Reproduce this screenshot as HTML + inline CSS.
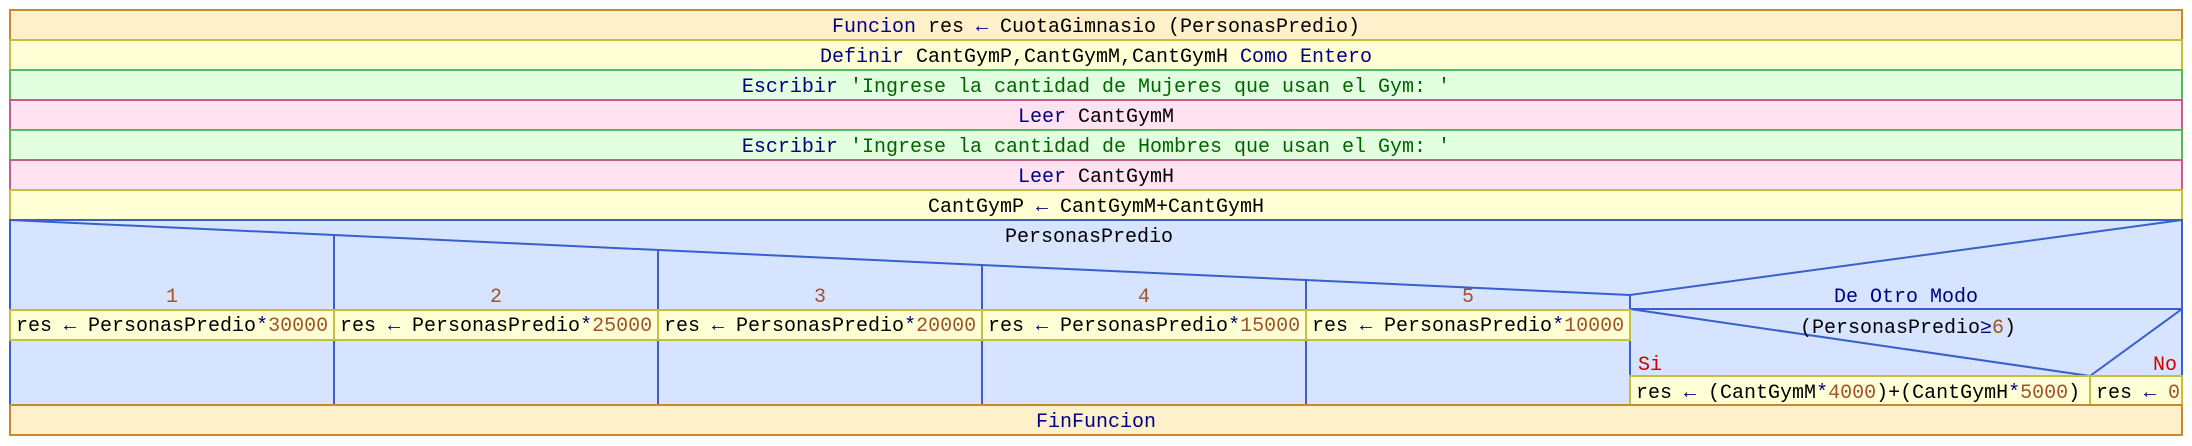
<!DOCTYPE html>
<html><head><meta charset="utf-8"><style>
html,body{margin:0;padding:0;background:#fff;width:2192px;height:446px;overflow:hidden}
svg{display:block}
text{font-family:"Liberation Mono","DejaVu Sans Mono",monospace;font-size:20px;fill:#000}
.k{fill:#000080}.s{fill:#006400}.n{fill:#a0522d}.r{fill:#d00000}
</style></head><body>
<svg width="2192" height="446" viewBox="0 0 2192 446" xmlns="http://www.w3.org/2000/svg">
<!-- top rows -->
<rect x="10" y="10" width="2172" height="30" fill="#fff0cc" stroke="#c8892a" stroke-width="2"/>
<rect x="10" y="40" width="2172" height="30" fill="#ffffd6" stroke="#c4bf3f" stroke-width="2"/>
<rect x="10" y="70" width="2172" height="30" fill="#e2ffe0" stroke="#5cb85c" stroke-width="2"/>
<rect x="10" y="100" width="2172" height="30" fill="#ffe2ef" stroke="#c0608a" stroke-width="2"/>
<rect x="10" y="130" width="2172" height="30" fill="#e2ffe0" stroke="#5cb85c" stroke-width="2"/>
<rect x="10" y="160" width="2172" height="30" fill="#ffe2ef" stroke="#c0608a" stroke-width="2"/>
<rect x="10" y="190" width="2172" height="30" fill="#ffffd6" stroke="#c4bf3f" stroke-width="2"/>
<!-- case block -->
<rect x="10" y="220" width="2172" height="185" fill="#d6e4ff" stroke="#3a5fcd" stroke-width="2"/>
<polyline points="10,220 1630,295 2182,220" fill="none" stroke="#3a5fcd" stroke-width="2"/>
<g stroke="#3a5fcd" stroke-width="2">
<line x1="334" y1="235" x2="334" y2="405"/>
<line x1="658" y1="250" x2="658" y2="405"/>
<line x1="982" y1="265" x2="982" y2="405"/>
<line x1="1306" y1="280" x2="1306" y2="405"/>
<line x1="1630" y1="295" x2="1630" y2="405"/>
<line x1="1630" y1="309" x2="2182" y2="309"/>
<line x1="1630" y1="309" x2="2090" y2="376"/>
<line x1="2182" y1="309" x2="2090" y2="376"/>
</g>
<!-- case yellow cells -->
<g fill="#ffffd6" stroke="#c4bf3f" stroke-width="2">
<rect x="10" y="310" width="324" height="30"/>
<rect x="334" y="310" width="324" height="30"/>
<rect x="658" y="310" width="324" height="30"/>
<rect x="982" y="310" width="324" height="30"/>
<rect x="1306" y="310" width="324" height="30"/>
<rect x="1630" y="376" width="460" height="29"/>
<rect x="2090" y="376" width="92" height="29"/>
</g>
<rect x="10" y="405" width="2172" height="30" fill="#fff0cc" stroke="#c8892a" stroke-width="2"/>

<!-- texts -->
<g text-anchor="middle">
<text x="1096" y="32"><tspan class="k">Funcion</tspan> res <tspan class="k">←</tspan> CuotaGimnasio (PersonasPredio)</text>
<text x="1096" y="62"><tspan class="k">Definir</tspan> CantGymP,CantGymM,CantGymH <tspan class="k">Como Entero</tspan></text>
<text x="1096" y="92"><tspan class="k">Escribir</tspan> <tspan class="s">'Ingrese la cantidad de Mujeres que usan el Gym: '</tspan></text>
<text x="1096" y="122"><tspan class="k">Leer</tspan> CantGymM</text>
<text x="1096" y="152"><tspan class="k">Escribir</tspan> <tspan class="s">'Ingrese la cantidad de Hombres que usan el Gym: '</tspan></text>
<text x="1096" y="182"><tspan class="k">Leer</tspan> CantGymH</text>
<text x="1096" y="212">CantGymP <tspan class="k">←</tspan> CantGymM+CantGymH</text>
<text x="1089" y="242">PersonasPredio</text>
<text class="n" x="172" y="302">1</text>
<text class="n" x="496" y="302">2</text>
<text class="n" x="820" y="302">3</text>
<text class="n" x="1144" y="302">4</text>
<text class="n" x="1468" y="302">5</text>
<text class="k" x="1906" y="302">De Otro Modo</text>
<text x="1908" y="333">(PersonasPredio<tspan class="k">≥</tspan><tspan class="n">6</tspan>)</text>
<text class="k" x="1096" y="427">FinFuncion</text>
</g>
<text x="16" y="331">res <tspan class="k">←</tspan> PersonasPredio<tspan class="k">*</tspan><tspan class="n">30000</tspan></text>
<text x="340" y="331">res <tspan class="k">←</tspan> PersonasPredio<tspan class="k">*</tspan><tspan class="n">25000</tspan></text>
<text x="664" y="331">res <tspan class="k">←</tspan> PersonasPredio<tspan class="k">*</tspan><tspan class="n">20000</tspan></text>
<text x="988" y="331">res <tspan class="k">←</tspan> PersonasPredio<tspan class="k">*</tspan><tspan class="n">15000</tspan></text>
<text x="1312" y="331">res <tspan class="k">←</tspan> PersonasPredio<tspan class="k">*</tspan><tspan class="n">10000</tspan></text>
<text class="r" x="1638" y="370">Si</text>
<text class="r" x="2177" y="370" text-anchor="end">No</text>
<text x="1636" y="398">res <tspan class="k">←</tspan> (CantGymM<tspan class="k">*</tspan><tspan class="n">4000</tspan>)+(CantGymH<tspan class="k">*</tspan><tspan class="n">5000</tspan>)</text>
<text x="2096" y="398">res <tspan class="k">←</tspan> <tspan class="n">0</tspan></text>
</svg>
</body></html>
